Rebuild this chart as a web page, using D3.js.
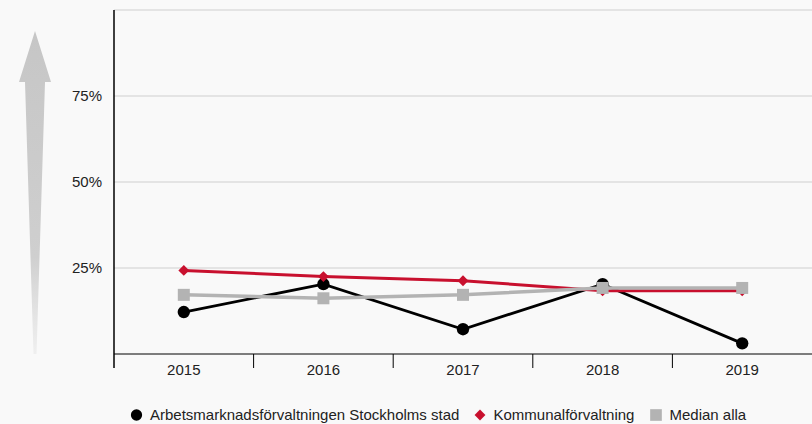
<!DOCTYPE html>
<html>
<head>
<meta charset="utf-8">
<script src="https://cdn.jsdelivr.net/npm/d3@7"></script>
<style>
  body { margin: 0; background: #f9f9f9; }
  svg { display: block; font-family: "Liberation Sans", Arial, sans-serif; }
</style>
</head>
<body>
<svg id="chart" width="812" height="424"></svg>
<script>
const years = ['2015', '2016', '2017', '2018', '2019'];
const arbetsmarknad = [12.2, 20.3, 7.2, 20.3, 3.1];
const kommunal = [24.3, 22.5, 21.3, 18.4, 18.4];
const median = [17.2, 16.2, 17.2, 19.2, 19.2];
const yTicks = [25, 50, 75, 100];

const series = [
  {name: 'Arbetsmarknadsförvaltningen Stockholms stad', values: arbetsmarknad, color: '#000', symbol: d3.symbolCircle, size: 120, legendSize: 100, width: 2.8},
  {name: 'Kommunalförvaltning', values: kommunal, color: '#c8102e', symbol: d3.symbolDiamond2, size: 75, legendSize: 75, width: 3},
  {name: 'Median alla', values: median, color: '#b3b3b3', symbol: d3.symbolSquare, size: 144, legendSize: 136, width: 3.5}
];

const svg = d3.select('#chart');
const plotLeft = 114, plotRight = 812, plotTop = 10, plotBottom = 354;

let x = d3.scaleBand().domain(years).range([plotLeft, plotRight]);
let y = d3.scaleLinear().domain([0, 100]).range([plotBottom, plotTop]);

// arrow on the left
let defs = svg.append('defs');
let grad = defs.append('linearGradient')
  .attr('id', 'arrowGrad').attr('x1', 0).attr('y1', 0).attr('x2', 0).attr('y2', 1);
grad.append('stop').attr('offset', '0%').attr('stop-color', '#c6c6c6');
grad.append('stop').attr('offset', '70%').attr('stop-color', '#cfcfcf');
grad.append('stop').attr('offset', '100%').attr('stop-color', '#d8d8d8').attr('stop-opacity', 0.3);

svg.append('path')
  .attr('d', 'M35,31 L51,82 L45,82 L36.5,354 L33.5,354 L25,82 L19,82 Z')
  .attr('fill', 'url(#arrowGrad)');

// gridlines
svg.append('g')
  .selectAll('line')
  .data(yTicks)
  .join('line')
  .attr('x1', plotLeft).attr('x2', plotRight)
  .attr('y1', d => y(d)).attr('y2', d => y(d))
  .attr('stroke', '#dcdcdc').attr('stroke-width', 1.5);

// y labels
svg.append('g')
  .selectAll('text')
  .data(yTicks.filter(d => d < 100))
  .join('text')
  .attr('x', 102).attr('y', d => y(d))
  .attr('dy', '0.35em')
  .attr('text-anchor', 'end')
  .attr('font-size', 15)
  .attr('fill', '#222')
  .text(d => d + '%');

// axes lines
svg.append('line')
  .attr('x1', plotLeft).attr('x2', plotLeft).attr('y1', 10).attr('y2', 368)
  .attr('stroke', '#000').attr('stroke-width', 1.5);
svg.append('line')
  .attr('x1', plotLeft).attr('x2', plotRight).attr('y1', plotBottom).attr('y2', plotBottom)
  .attr('stroke', '#000').attr('stroke-width', 1);

// category boundary ticks
svg.append('g')
  .selectAll('line')
  .data(years.slice(1))
  .join('line')
  .attr('x1', d => x(d)).attr('x2', d => x(d))
  .attr('y1', plotBottom).attr('y2', 368)
  .attr('stroke', '#000').attr('stroke-width', 1);

svg.append('g')
  .selectAll('text')
  .data(years)
  .join('text')
  .attr('x', d => x(d) + x.bandwidth() / 2)
  .attr('y', 375)
  .attr('text-anchor', 'middle')
  .attr('font-size', 15)
  .attr('fill', '#222')
  .text(d => d);

// lines
let line = d3.line()
  .x((d, i) => x(years[i]) + x.bandwidth() / 2)
  .y(d => y(d));

series.forEach(s => {
  let g = svg.append('g');
  g.append('path')
    .attr('d', line(s.values))
    .attr('fill', 'none')
    .attr('stroke', s.color)
    .attr('stroke-width', s.width);
  g.selectAll('path.pt')
    .data(s.values)
    .join('path')
    .attr('class', 'pt')
    .attr('transform', (d, i) => `translate(${x(years[i]) + x.bandwidth() / 2},${y(d)})`)
    .attr('d', d3.symbol().type(s.symbol).size(s.size))
    .attr('fill', s.color);
});

// legend
let legendX = [136.5, 480, 656];
let legend = svg.append('g');
series.forEach((s, i) => {
  legend.append('path')
    .attr('transform', `translate(${legendX[i]},415)`)
    .attr('d', d3.symbol().type(s.symbol).size(s.legendSize))
    .attr('fill', s.color);
  legend.append('text')
    .attr('x', legendX[i] + 13.5)
    .attr('y', 420)
    .attr('font-size', 15)
    .attr('fill', '#222')
    .text(s.name);
});
</script>
</body>
</html>
